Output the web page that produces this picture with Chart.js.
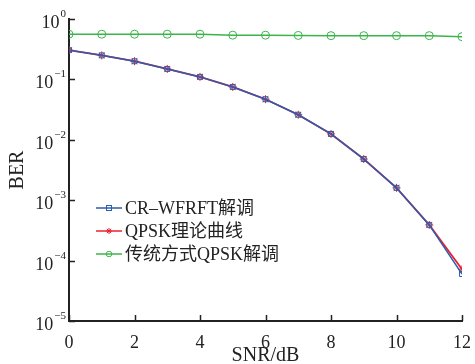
<!DOCTYPE html>
<html lang="zh">
<head>
<meta charset="UTF-8">
<title>BER vs SNR</title>
<script src="https://cdn.jsdelivr.net/npm/chart.js"></script>
<style>
  html, body { margin: 0; padding: 0; background: #fff; }
  #wrap { width: 475px; height: 364px; }
</style>
</head>
<body>
<div id="wrap"><canvas id="berChart" width="475" height="364"></canvas></div>
<script>
// data
const snr = [0, 1, 2, 3, 4, 5, 6, 7, 8, 9, 10, 11, 12];
const crWfrft = [0.305, 0.25, 0.20, 0.149, 0.11, 0.075, 0.047, 0.026, 0.0125, 0.0048, 0.0016, 0.00039, 0.00006];
const qpskTheory = [0.305, 0.25, 0.20, 0.149, 0.11, 0.075, 0.047, 0.026, 0.0125, 0.0048, 0.0016, 0.00039, 0.000072];
const qpskTrad = [0.56, 0.56, 0.56, 0.56, 0.56, 0.54, 0.54, 0.535, 0.53, 0.53, 0.53, 0.53, 0.51];
const seriesNames = ['CR\u2013WFRFT解调', 'QPSK理论曲线', '传统方式QPSK解调'];
const yTickExps = [0, -1, -2, -3, -4, -5];
const xTicks = [0, 2, 4, 6, 8, 10, 12];

const SERIF = '"Liberation Serif", "Times New Roman", "Noto Sans CJK SC", serif';

const axisDecor = {
    id: 'axisDecor',
    afterDraw(chart) {
        const ctx = chart.ctx;
        const xs = chart.scales.x, ys = chart.scales.y;
        const area = chart.chartArea;
        ctx.save();
        ctx.strokeStyle = '#222';
        ctx.lineWidth = 1.5;
        // inward tick marks
        xTicks.forEach(v => {
            const px = Math.round(xs.getPixelForValue(v)) + 0.5;
            ctx.beginPath();
            ctx.moveTo(px, area.bottom);
            ctx.lineTo(px, area.bottom - 6);
            ctx.stroke();
        });
        yTickExps.forEach(e => {
            const py = Math.round(ys.getPixelForValue(Math.pow(10, e))) + 0.5;
            ctx.beginPath();
            ctx.moveTo(area.left, py);
            ctx.lineTo(area.left + 6, py);
            ctx.stroke();
            // label 10^e
            const sup = e < 0 ? '\u2212' + Math.abs(e) : String(e);
            ctx.fillStyle = '#222';
            ctx.textBaseline = 'alphabetic';
            ctx.textAlign = 'left';
            ctx.font = '11px ' + SERIF;
            const supW = ctx.measureText(sup).width;
            ctx.font = '18px ' + SERIF;
            const baseW = ctx.measureText('10').width;
            const right = area.left - 3;
            const x0 = right - supW - baseW - 1;
            ctx.fillText('10', x0, py + 8);
            ctx.font = '11px ' + SERIF;
            ctx.fillText(sup, x0 + baseW + 1, py - 3);
        });
        // legend inside the plot
        const lx = area.left + 27, ly = area.top + 189, gap = 23;
        chart.data.datasets.forEach((ds, i) => {
            const y = ly + i * gap;
            ctx.strokeStyle = ds.borderColor;
            ctx.lineWidth = 1.5;
            ctx.beginPath();
            ctx.moveTo(lx, y);
            ctx.lineTo(lx + 26, y);
            ctx.stroke();
            const cx = lx + 13;
            ctx.lineWidth = 1;
            if (ds.pointStyle === 'rect') {
                ctx.strokeRect(cx - 2.5, y - 2.5, 5, 5);
            } else if (ds.pointStyle === 'circle') {
                ctx.beginPath();
                ctx.arc(cx, y, 2.8, 0, Math.PI * 2);
                ctx.stroke();
            } else {
                ctx.beginPath();
                for (let k = 0; k < 4; k++) {
                    const a = k * Math.PI / 4;
                    ctx.moveTo(cx - 3 * Math.cos(a), y - 3 * Math.sin(a));
                    ctx.lineTo(cx + 3 * Math.cos(a), y + 3 * Math.sin(a));
                }
                ctx.stroke();
            }
            ctx.fillStyle = '#222';
            ctx.font = '18px ' + SERIF;
            ctx.textBaseline = 'middle';
            ctx.fillText(ds.label, lx + 29, y + 1);
        });
        ctx.restore();
    }
};

new Chart(document.getElementById('berChart'), {
    type: 'line',
    data: {
        labels: snr,
        datasets: [
            {
                label: seriesNames[0],
                data: snr.map((x, i) => ({ x: x, y: crWfrft[i] })),
                borderColor: '#2a5db0',
                backgroundColor: 'rgba(0,0,0,0)',
                borderWidth: 1.5,
                pointStyle: 'rect',
                pointRadius: 3.5,
                pointBorderWidth: 1,
                pointBackgroundColor: 'rgba(0,0,0,0)'
            },
            {
                label: seriesNames[1],
                data: snr.map((x, i) => ({ x: x, y: qpskTheory[i] })),
                borderColor: '#e8232e',
                backgroundColor: 'rgba(0,0,0,0)',
                borderWidth: 1.8,
                pointStyle: 'star',
                pointRadius: 4,
                pointBorderWidth: 1,
                pointBackgroundColor: 'rgba(0,0,0,0)'
            },
            {
                label: seriesNames[2],
                data: snr.map((x, i) => ({ x: x, y: qpskTrad[i] })),
                borderColor: '#3bb54a',
                backgroundColor: 'rgba(0,0,0,0)',
                borderWidth: 1.5,
                pointStyle: 'circle',
                pointRadius: 4,
                pointBorderWidth: 1,
                pointBackgroundColor: 'rgba(0,0,0,0)'
            }
        ]
    },
    options: {
        responsive: false,
        animation: false,
        devicePixelRatio: 1,
        layout: { padding: { top: 19, right: 13, left: 0, bottom: 0 } },
        plugins: {
            legend: { display: false },
            tooltip: { enabled: false }
        },
        scales: {
            x: {
                type: 'linear',
                min: 0,
                max: 12,
                afterBuildTicks: s => { s.ticks = xTicks.map(v => ({ value: v })); },
                afterFit: s => { s.height = 43; },
                grid: { display: false },
                border: { display: true, color: '#222', width: 2 },
                ticks: {
                    color: '#222',
                    padding: 3,
                    font: { family: SERIF, size: 18 }
                },
                title: {
                    display: true,
                    text: 'SNR/dB',
                    color: '#222',
                    font: { family: SERIF, size: 20, lineHeight: 1 },
                    padding: { top: 0, bottom: -2 }
                }
            },
            y: {
                type: 'logarithmic',
                min: 1e-5,
                max: 1,
                afterBuildTicks: s => { s.ticks = yTickExps.map(e => ({ value: Math.pow(10, e) })); },
                afterFit: s => { s.width = 69; },
                grid: { display: false },
                border: { display: true, color: '#222', width: 2 },
                ticks: { display: false },
                title: {
                    display: true,
                    text: 'BER',
                    color: '#222',
                    font: { family: SERIF, size: 20, lineHeight: 1 },
                    padding: { top: 8, bottom: 0 }
                }
            }
        }
    },
    plugins: [axisDecor]
});
</script>
</body>
</html>
